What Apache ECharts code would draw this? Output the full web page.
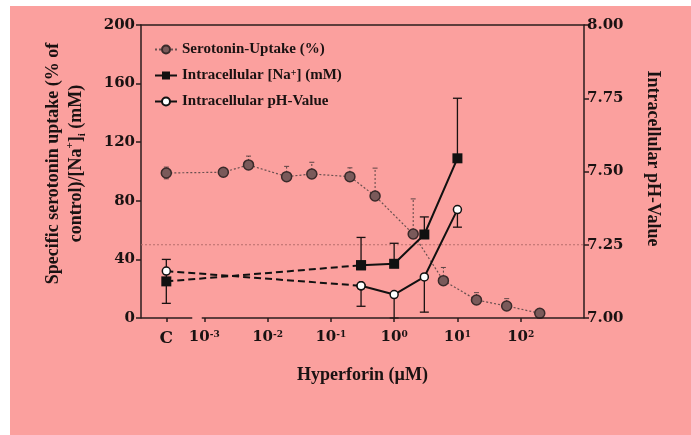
<!DOCTYPE html>
<html>
<head>
<meta charset="utf-8">
<script src="https://cdn.jsdelivr.net/npm/echarts@6/dist/echarts.min.js"></script>
<style>
  html, body { margin: 0; padding: 0; background: #ffffff; }
  #frame { position: absolute; left: 10px; top: 6px; width: 681px; height: 429px; background: #fba09e; }
  #chart { position: absolute; left: 0; top: 0; width: 691px; height: 435px; }
</style>
</head>
<body>
<div id="frame"></div>
<div id="chart"></div>
<script>
// Dose axis is drawn in log10(µM); the untreated control sits left of the break.
const CONTROL_POS = -3.6;
const doseTicks = ['C', 1e-3, 1e-2, 1e-1, 1, 10, 100];

// Serotonin uptake (% of control), dotted series on the left axis
const serotoninDose = ['C', 0.002, 0.005, 0.02, 0.05, 0.2, 0.5, 2, 6, 20, 60, 200];
const serotoninUptake = [99, 99.5, 104.5, 96.5, 98.3, 96.5, 83.3, 57.3, 25.5, 12.3, 8.2, 3.2];
const serotoninErrUp = [4, 0, 6, 7, 8, 6, 19, 24, 9, 5, 5, 0];
const serotoninErrDown = [4, 0, 0, 0, 0, 0, 0, 0, 0, 0, 0, 0];

// Intracellular sodium (mM), left axis
const ionDose = ['C', 0.3, 1, 3, 10];
const sodium = [25, 36, 37, 57, 109];
const sodiumErrUp = [15, 19, 14, 12, 41];
const sodiumErrDown = [15, 0, 0, 0, 0];

// Intracellular pH, right axis
const pH = [7.16, 7.11, 7.08, 7.14, 7.37];
const pHErrUp = [0, 0, 0, 0, 0];
const pHErrDown = [0, 0.07, 0.08, 0.12, 0.06];

const halfLevel = 50;

const NAME_SERO = 'Serotonin-Uptake (%)';
const NAME_NA = 'Intracellular [Na+] (mM)';
const NAME_PH = 'Intracellular pH-Value';

const FONT = 'Liberation Serif';
const NUM_FONT = 'DejaVu Serif';
const INK = '#1a1212';

const toX = d => (d === 'C' ? CONTROL_POS : Math.log10(d));
const pairs = (doses, vals) => doses.map((d, i) => [toX(d), vals[i]]);
const bars = (doses, vals, up, down) =>
  doses.map((d, i) => [toX(d), vals[i] - down[i], vals[i] + up[i], vals[i]]);

function errorBarSeries(data, yAxisIndex, capHalf, lineStyle) {
  return {
    type: 'custom',
    yAxisIndex: yAxisIndex,
    silent: true,
    z: 1,
    data: data,
    renderItem: function (params, api) {
      const x = api.value(0), lo = api.value(1), hi = api.value(2), v = api.value(3);
      const children = [];
      const segs = [];
      if (hi > v) segs.push([v, hi]);
      if (lo < v) segs.push([lo, v]);
      segs.forEach(function (s) {
        const a = api.coord([x, s[0]]), b = api.coord([x, s[1]]);
        children.push({ type: 'line', shape: { x1: a[0], y1: a[1], x2: b[0], y2: b[1] }, style: lineStyle });
      });
      [[hi, hi > v], [lo, lo < v]].forEach(function (c) {
        if (!c[1]) return;
        const p = api.coord([x, c[0]]);
        children.push({ type: 'line', shape: { x1: p[0] - capHalf, y1: p[1], x2: p[0] + capHalf, y2: p[1] },
          style: { stroke: lineStyle.stroke, lineWidth: lineStyle.lineWidth } });
      });
      return { type: 'group', children: children };
    }
  };
}

const seroPts = pairs(serotoninDose, serotoninUptake);
const naPts = pairs(ionDose, sodium);
const phPts = pairs(ionDose, pH);

const tickPositions = doseTicks.map(toX);

const chart = echarts.init(document.getElementById('chart'), null, { renderer: 'canvas' });

const axisLineStyle = { color: '#2a1c1c', width: 1.5 };

chart.setOption({
  backgroundColor: 'transparent',
  animation: false,
  grid: { left: 141, right: 107, top: 25, bottom: 117 },
  legend: {
    data: [NAME_SERO, NAME_NA, NAME_PH],
    orient: 'vertical',
    left: 149,
    top: 37,
    itemWidth: 22,
    itemHeight: 10,
    itemGap: 11,
    textStyle: {
      fontFamily: FONT, fontWeight: 'bold', fontSize: 15, color: INK,
      rich: {
        t: { fontFamily: FONT, fontWeight: 'bold', fontSize: 15, color: INK },
        s: { fontFamily: FONT, fontWeight: 'bold', fontSize: 10, color: INK, verticalAlign: 'top', lineHeight: 10 }
      }
    },
    formatter: function (name) {
      if (name === NAME_NA) return '{t|Intracellular [Na}{s|+}{t|] (mM)}';
      return name;
    }
  },
  xAxis: [
    {
      type: 'value', min: -4, max: 3,
      name: 'Hyperforin (µM)', nameLocation: 'middle', nameGap: 48,
      nameTextStyle: { fontFamily: FONT, fontWeight: 'bold', fontSize: 18, color: INK },
      axisLine: { show: false, onZero: false },
      splitLine: { show: false },
      axisTick: { show: true, length: 4, lineStyle: axisLineStyle, customValues: tickPositions },
      axisLabel: {
        customValues: tickPositions,
        margin: 12,
        formatter: function (v) {
          if (Math.abs(v - CONTROL_POS) < 1e-6) return '{c|C}';
          return '{b|10}{s|' + Math.round(v) + '}';
        },
        rich: {
          c: { fontFamily: NUM_FONT, fontWeight: 'bold', fontSize: 17, color: INK },
          b: { fontFamily: NUM_FONT, fontWeight: 'bold', fontSize: 15, color: INK },
          s: { fontFamily: NUM_FONT, fontWeight: 'bold', fontSize: 9, color: INK, verticalAlign: 'top', lineHeight: 12 }
        }
      }
    },
    {
      type: 'value', min: -4, max: 3, position: 'top',
      axisLine: { show: true, onZero: false, lineStyle: axisLineStyle },
      axisTick: { show: false }, axisLabel: { show: false }, splitLine: { show: false }
    }
  ],
  yAxis: [
    {
      type: 'value', min: 0, max: 200, interval: 40, position: 'left',
      name: 'Specific serotonin uptake (% of\ncontrol)/[Na{s|+}]{i|i} (mM)',
      nameLocation: 'middle', nameRotate: 90, nameGap: 53,
      nameTextStyle: {
        fontFamily: FONT, fontWeight: 'bold', fontSize: 18, color: INK, lineHeight: 23,
        padding: [0, 0, 0, 16],
        rich: {
          s: { fontFamily: FONT, fontWeight: 'bold', fontSize: 11, color: INK, verticalAlign: 'top', lineHeight: 23 },
          i: { fontFamily: FONT, fontWeight: 'bold', fontSize: 11, color: INK, verticalAlign: 'bottom', lineHeight: 23 }
        }
      },
      axisLine: { show: true, onZero: false, lineStyle: axisLineStyle },
      axisTick: { show: true, length: 5, lineStyle: axisLineStyle },
      axisLabel: { fontFamily: NUM_FONT, fontWeight: 'bold', fontSize: 15, color: INK, margin: 6 },
      splitLine: { show: false }
    },
    {
      type: 'value', min: 7, max: 8, interval: 0.25, position: 'right',
      name: 'Intracellular pH-Value',
      nameLocation: 'middle', nameRotate: -90, nameGap: 60,
      nameTextStyle: { fontFamily: FONT, fontWeight: 'bold', fontSize: 18, color: INK, padding: [0, 26, 0, 0] },
      axisLine: { show: true, onZero: false, lineStyle: axisLineStyle },
      axisTick: { show: true, length: 5, lineStyle: axisLineStyle },
      axisLabel: {
        fontFamily: NUM_FONT, fontWeight: 'bold', fontSize: 15, color: INK, margin: 3,
        formatter: v => v.toFixed(2)
      },
      splitLine: { show: false }
    }
  ],
  series: [
    // broken bottom axis line: control segment and the dose-range segment
    {
      type: 'line', silent: true, clip: false, symbol: 'none', z: 5,
      data: [[-4, 0], [-3.19, 0]], lineStyle: axisLineStyle
    },
    {
      type: 'line', silent: true, clip: false, symbol: 'none', z: 5,
      data: [[-3.04, 0], [3, 0]], lineStyle: axisLineStyle
    },
    // 50 % reference level
    {
      type: 'line', silent: true, symbol: 'none', z: 0,
      data: [[-4, halfLevel], [3, halfLevel]],
      lineStyle: { color: '#b86e6c', width: 1, type: [2, 2] }
    },
    errorBarSeries(bars(serotoninDose, serotoninUptake, serotoninErrUp, serotoninErrDown), 0, 2.5,
      { stroke: '#5a4444', lineWidth: 1, lineDash: [2, 2] }),
    errorBarSeries(bars(ionDose, sodium, sodiumErrUp, sodiumErrDown), 0, 4.5,
      { stroke: '#1a1212', lineWidth: 1.3 }),
    errorBarSeries(bars(ionDose, pH, pHErrUp, pHErrDown), 1, 4.5,
      { stroke: '#1a1212', lineWidth: 1.3 }),
    {
      name: NAME_SERO, type: 'line', z: 3,
      data: seroPts,
      symbol: 'circle', symbolSize: 10,
      itemStyle: { color: '#7a5a5a', borderColor: '#3a2a2a', borderWidth: 1.5 },
      lineStyle: { color: '#6a5050', width: 1.2, type: [2, 2] }
    },
    // control-to-first-dose segments are dashed
    {
      type: 'line', z: 2, silent: true,
      data: naPts.slice(0, 2),
      symbol: 'square', symbolSize: 10,
      itemStyle: { color: '#111' },
      lineStyle: { color: '#111', width: 2, type: [7, 4] }
    },
    {
      name: NAME_NA, type: 'line', z: 4,
      data: naPts.slice(1),
      symbol: 'square', symbolSize: 10,
      itemStyle: { color: '#111' },
      lineStyle: { color: '#111', width: 2 }
    },
    {
      type: 'line', z: 2, silent: true, yAxisIndex: 1,
      data: phPts.slice(0, 2),
      symbol: 'circle', symbolSize: 8,
      itemStyle: { color: '#ffffff', borderColor: '#111', borderWidth: 1.5 },
      lineStyle: { color: '#111', width: 2, type: [7, 4] }
    },
    {
      name: NAME_PH, type: 'line', z: 4, yAxisIndex: 1,
      data: phPts.slice(1),
      symbol: 'circle', symbolSize: 8,
      itemStyle: { color: '#ffffff', borderColor: '#111', borderWidth: 1.5 },
      lineStyle: { color: '#111', width: 2 }
    }
  ]
});
</script>
</body>
</html>
